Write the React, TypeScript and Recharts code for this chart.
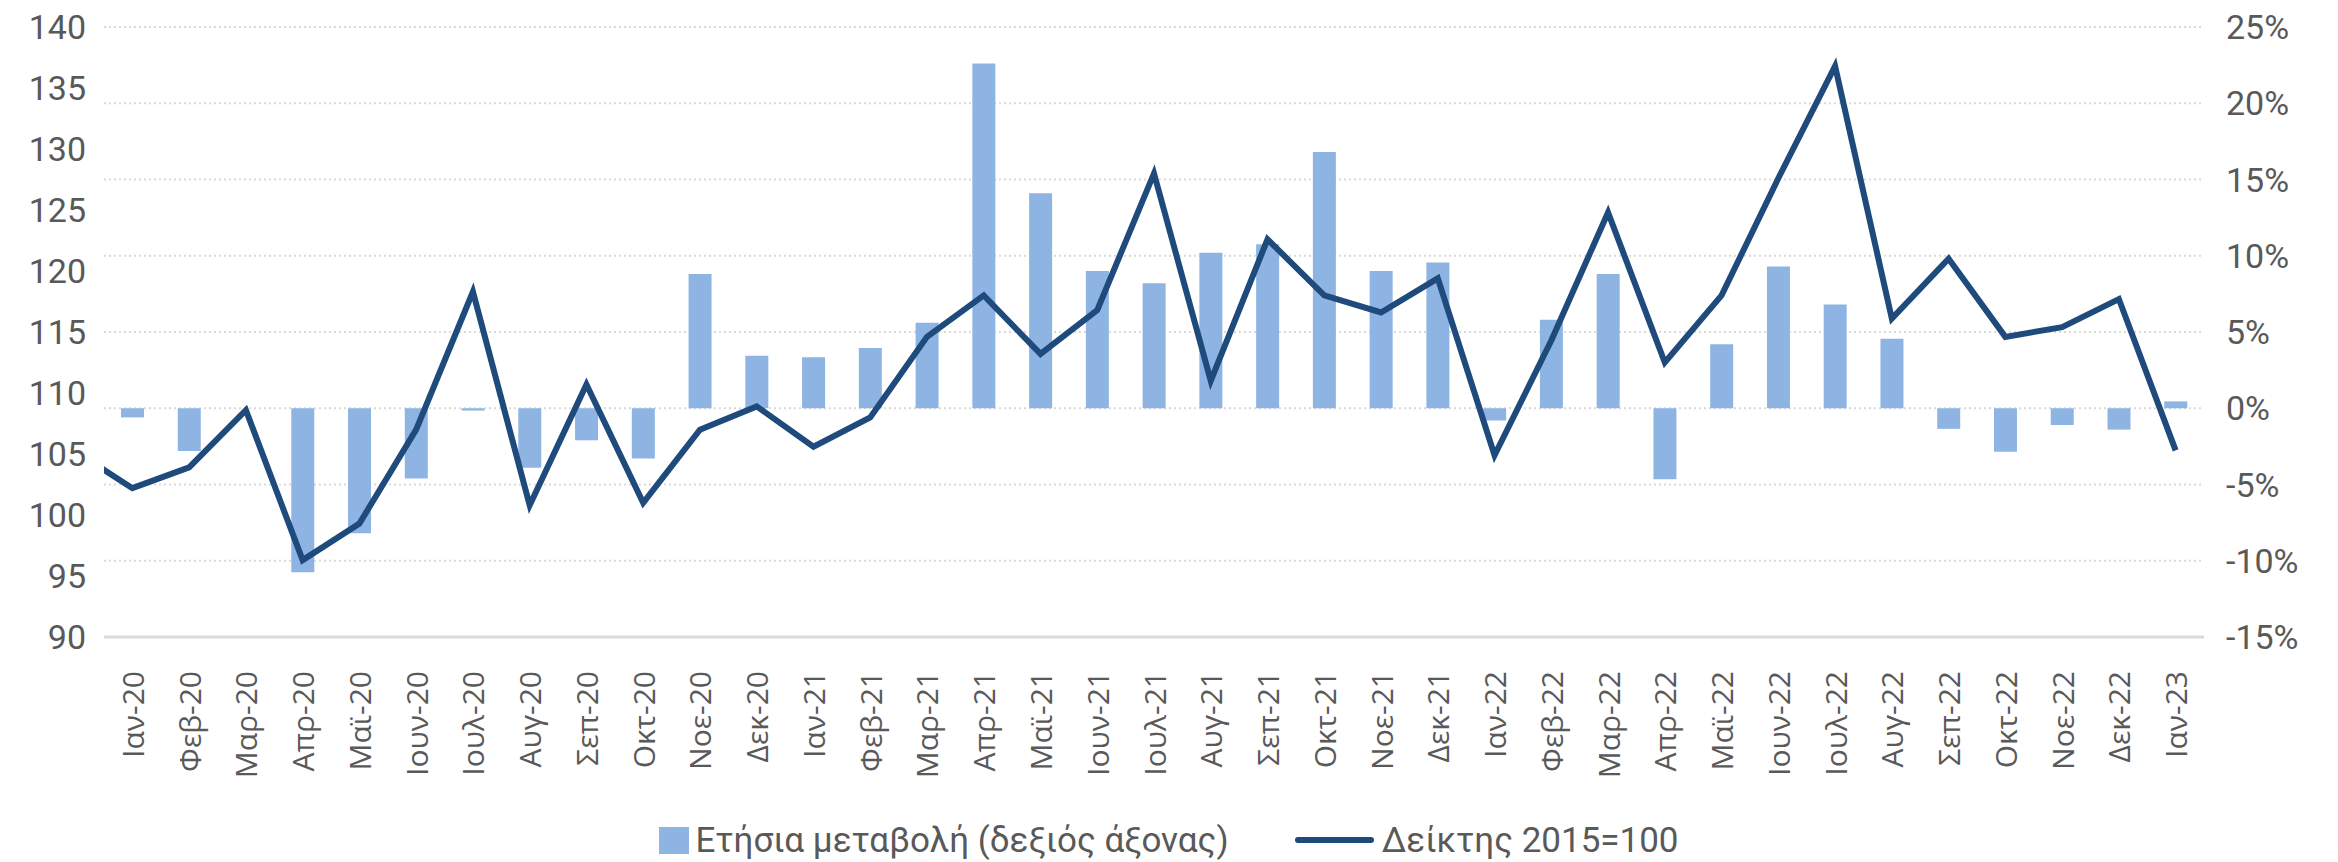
import React from 'react';
import { ComposedChart, Bar, Line, XAxis, YAxis, CartesianGrid } from 'recharts';

const months = [
  'Ιαν-20', 'Φεβ-20', 'Μαρ-20', 'Απρ-20', 'Μαϊ-20', 'Ιουν-20', 'Ιουλ-20', 'Αυγ-20', 'Σεπ-20', 'Οκτ-20', 'Νοε-20', 'Δεκ-20',
  'Ιαν-21', 'Φεβ-21', 'Μαρ-21', 'Απρ-21', 'Μαϊ-21', 'Ιουν-21', 'Ιουλ-21', 'Αυγ-21', 'Σεπ-21', 'Οκτ-21', 'Νοε-21', 'Δεκ-21',
  'Ιαν-22', 'Φεβ-22', 'Μαρ-22', 'Απρ-22', 'Μαϊ-22', 'Ιουν-22', 'Ιουλ-22', 'Αυγ-22', 'Σεπ-22', 'Οκτ-22', 'Νοε-22', 'Δεκ-22',
  'Ιαν-23',
];

// Ετήσια μεταβολή (%) – right axis
const annualChange = [
  -0.6, -2.8, 0, -10.75, -8.2, -4.6, -0.15, -3.9, -2.1, -3.3, 8.8, 3.45,
  3.35, 3.95, 5.6, 22.6, 14.1, 9.0, 8.2, 10.2, 10.75, 16.8, 9.0, 9.55,
  -0.8, 5.8, 8.8, -4.65, 4.2, 9.3, 6.8, 4.55, -1.35, -2.85, -1.1, -1.4,
  0.45,
];

// Δείκτης 2015=100 – left axis
const index2015 = [
  102.2, 103.9, 108.6, 96.3, 99.3, 107.0, 118.3, 100.8, 110.7, 101.0, 107.0, 108.9,
  105.6, 108.0, 114.6, 118.0, 113.2, 116.8, 128.0, 111.0, 122.6, 118.0, 116.6, 119.4,
  104.9, 114.3, 124.8, 112.5, 118.0, 127.6, 136.8, 116.1, 121.0, 114.6, 115.4, 117.7,
  105.3,
];

// previous month (Δεκ-19), only its segment entering the plot is visible
const leadIndex = 105.2;

const leftTicks = [90, 95, 100, 105, 110, 115, 120, 125, 130, 135, 140];
const rightTicks = [-15, -10, -5, 0, 5, 10, 15, 20, 25];

const data = [
  { i: -1, idx: leadIndex, chg: null as number | null },
  ...months.map((m, i) => ({ i, idx: index2015[i], chg: annualChange[i] })),
];

const BAR_COLOR = '#8EB4E3';
const LINE_COLOR = '#1F4A7C';
const TEXT_COLOR = '#595959';

const XTick = (props: any) => {
  const { x, y, payload } = props;
  const label = months[payload.value];
  return (
    <text
      x={0}
      y={0}
      transform={`translate(${x},${y + 26}) rotate(-90)`}
      textAnchor="end"
      dominantBaseline="central"
      fill={TEXT_COLOR}
      fontSize={30}
      fontFamily="'Open Sans', sans-serif"
    >
      {label}
    </text>
  );
};

export default function App() {
  return (
    <div style={{ position: 'absolute', left: 0, top: 0, width: 2338, height: 862, background: '#fff' }}>
      <ComposedChart
        width={2338}
        height={862}
        data={data}
        margin={{ top: 27, right: 0, bottom: 0, left: 0 }}
      >
        <CartesianGrid
          vertical={false}
          yAxisId="right"
          stroke="#D9D9D9"
          strokeWidth={2}
          strokeDasharray="2 3"
        />
        <XAxis
          type="number"
          dataKey="i"
          domain={[-0.5, 36.5]}
          ticks={months.map((_, i) => i)}
          interval={0}
          allowDataOverflow
          height={225}
          tick={<XTick />}
          tickLine={false}
          axisLine={{ stroke: '#D9D9D9', strokeWidth: 3 }}
        />
        <YAxis
          yAxisId="left"
          orientation="left"
          width={104}
          domain={[90, 140]}
          ticks={leftTicks}
          interval={0}
          axisLine={false}
          tickLine={false}
          tickSize={0}
          tickMargin={18}
          tick={{ fill: TEXT_COLOR, fontSize: 34, fontFamily: 'Roboto, sans-serif' }}
        />
        <YAxis
          yAxisId="right"
          orientation="right"
          width={134}
          domain={[-15, 25]}
          ticks={rightTicks}
          interval={0}
          axisLine={false}
          tickLine={false}
          tickSize={0}
          tickMargin={22}
          tickFormatter={(v: number) => `${v}%`}
          tick={{ fill: TEXT_COLOR, fontSize: 34, fontFamily: 'Roboto, sans-serif', textAnchor: 'start' }}
        />
        <Bar dataKey="chg" yAxisId="right" fill={BAR_COLOR} barSize={23} isAnimationActive={false} />
        <Line
          dataKey="idx"
          yAxisId="left"
          type="linear"
          stroke={LINE_COLOR}
          strokeWidth={6}
          dot={false}
          activeDot={false}
          isAnimationActive={false}
        />
      </ComposedChart>
      <div
        style={{
          position: 'absolute',
          left: 0,
          top: 818,
          width: 2338,
          height: 44,
          display: 'flex',
          alignItems: 'center',
          justifyContent: 'center',
          fontFamily: 'Roboto, sans-serif',
          fontSize: 35,
          color: TEXT_COLOR,
        }}
      >
        <span style={{ display: 'inline-block', width: 30, height: 27, background: BAR_COLOR, marginRight: 6 }} />
        <span>Ετήσια μεταβολή (δεξιός άξονας)</span>
        <span
          style={{
            display: 'inline-block',
            width: 79,
            height: 6,
            borderRadius: 3,
            background: LINE_COLOR,
            marginLeft: 66,
            marginRight: 8,
          }}
        />
        <span>Δείκτης 2015=100</span>
      </div>
    </div>
  );
}
